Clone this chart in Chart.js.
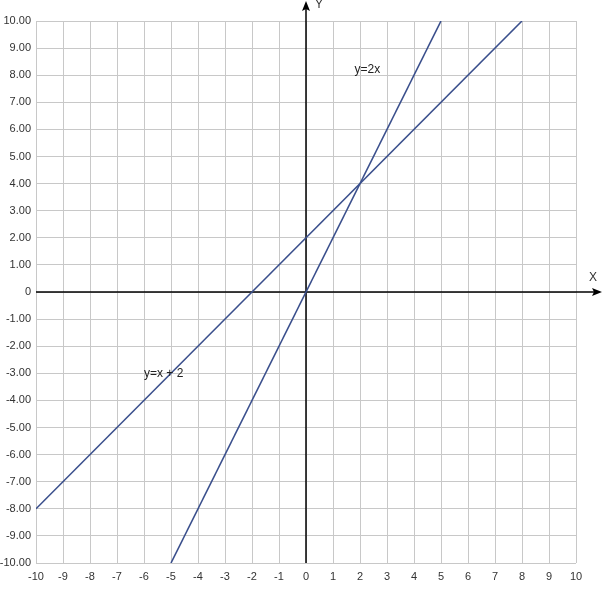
<!DOCTYPE html>
<html>
<head>
<meta charset="utf-8">
<script src="https://cdn.jsdelivr.net/npm/chart.js@4"></script>
<style>
  body { margin: 0; background: #fff; }
  canvas { display: block; }
</style>
</head>
<body>
<canvas id="chart" width="604" height="605"></canvas>
<script>
// Line y = x + 2
const lineAX = [-10, 8];
const lineAY = [-8, 10];
// Line y = 2x
const lineBX = [-5, 5];
const lineBY = [-10, 10];

// Axis range and labels
const axisMin = -10;
const axisMax = 10;
const labelA = "y=x + 2";
const labelAPos = [-6, -3];
const labelB = "y=2x";
const labelBPos = [1.8, 8.2];

const lineColor = "#3a4f8c";
const font = { family: "Liberation Sans, Arial, sans-serif", size: 11 };

function toPoints(xs, ys) {
  return xs.map((x, i) => ({ x: x, y: ys[i] }));
}

// Draw the black axes through the origin with arrows, plus text labels
const axesPlugin = {
  id: "axes",
  beforeDatasetsDraw(chart) {
    const ctx = chart.ctx;
    const xs = chart.scales.x;
    const ys = chart.scales.y;
    const ox = xs.getPixelForValue(0);
    const oy = ys.getPixelForValue(0);
    const area = chart.chartArea;
    ctx.save();
    ctx.strokeStyle = "#000";
    ctx.fillStyle = "#000";
    ctx.lineWidth = 1.5;
    // y axis
    ctx.beginPath();
    ctx.moveTo(ox, area.bottom);
    ctx.lineTo(ox, 6);
    ctx.stroke();
    ctx.beginPath();
    ctx.moveTo(ox, 1);
    ctx.lineTo(ox - 4, 11);
    ctx.lineTo(ox, 9);
    ctx.lineTo(ox + 4, 11);
    ctx.closePath();
    ctx.fill();
    // x axis
    ctx.beginPath();
    ctx.moveTo(area.left, oy);
    ctx.lineTo(596, oy);
    ctx.stroke();
    ctx.beginPath();
    ctx.moveTo(602, oy);
    ctx.lineTo(592, oy - 4);
    ctx.lineTo(594, oy);
    ctx.lineTo(592, oy + 4);
    ctx.closePath();
    ctx.fill();
    // axis names
    ctx.font = "12px " + font.family;
    ctx.fillStyle = "#333";
    ctx.textBaseline = "middle";
    ctx.textAlign = "left";
    ctx.fillText("Y", ox + 9, 5);
    ctx.fillText("X", 589, oy - 14);
    ctx.restore();
  },
  afterDatasetsDraw(chart) {
    const ctx = chart.ctx;
    const xs = chart.scales.x;
    const ys = chart.scales.y;
    ctx.save();
    ctx.font = "12px " + font.family;
    ctx.fillStyle = "#222";
    ctx.textBaseline = "middle";
    ctx.textAlign = "left";
    ctx.fillText(labelA, xs.getPixelForValue(labelAPos[0]), ys.getPixelForValue(labelAPos[1]));
    ctx.fillText(labelB, xs.getPixelForValue(labelBPos[0]), ys.getPixelForValue(labelBPos[1]));
    ctx.restore();
  }
};

new Chart(document.getElementById("chart").getContext("2d"), {
  type: "scatter",
  data: {
    datasets: [
      {
        data: toPoints(lineAX, lineAY),
        showLine: true,
        borderColor: lineColor,
        borderWidth: 1.6,
        pointRadius: 0
      },
      {
        data: toPoints(lineBX, lineBY),
        showLine: true,
        borderColor: lineColor,
        borderWidth: 1.6,
        pointRadius: 0
      }
    ]
  },
  options: {
    responsive: false,
    animation: false,
    layout: { padding: { top: 21, right: 28, left: 0, bottom: 0 } },
    plugins: { legend: { display: false }, tooltip: { enabled: false } },
    scales: {
      x: {
        type: "linear",
        min: axisMin,
        max: axisMax,
        afterFit(scale) { scale.height = 42; },
        border: { display: false },
        grid: { color: "#c8c8c8", drawTicks: false },
        ticks: {
          stepSize: 1,
          padding: 7,
          color: "#333",
          font: font,
          maxRotation: 0
        }
      },
      y: {
        type: "linear",
        min: axisMin,
        max: axisMax,
        afterFit(scale) { scale.width = 36; },
        border: { display: false },
        grid: { color: "#c8c8c8", drawTicks: false },
        ticks: {
          stepSize: 1,
          padding: 5,
          color: "#333",
          font: font,
          callback: (v) => (v === 0 ? "0" : v.toFixed(2))
        }
      }
    }
  },
  plugins: [axesPlugin]
});
</script>
</body>
</html>
